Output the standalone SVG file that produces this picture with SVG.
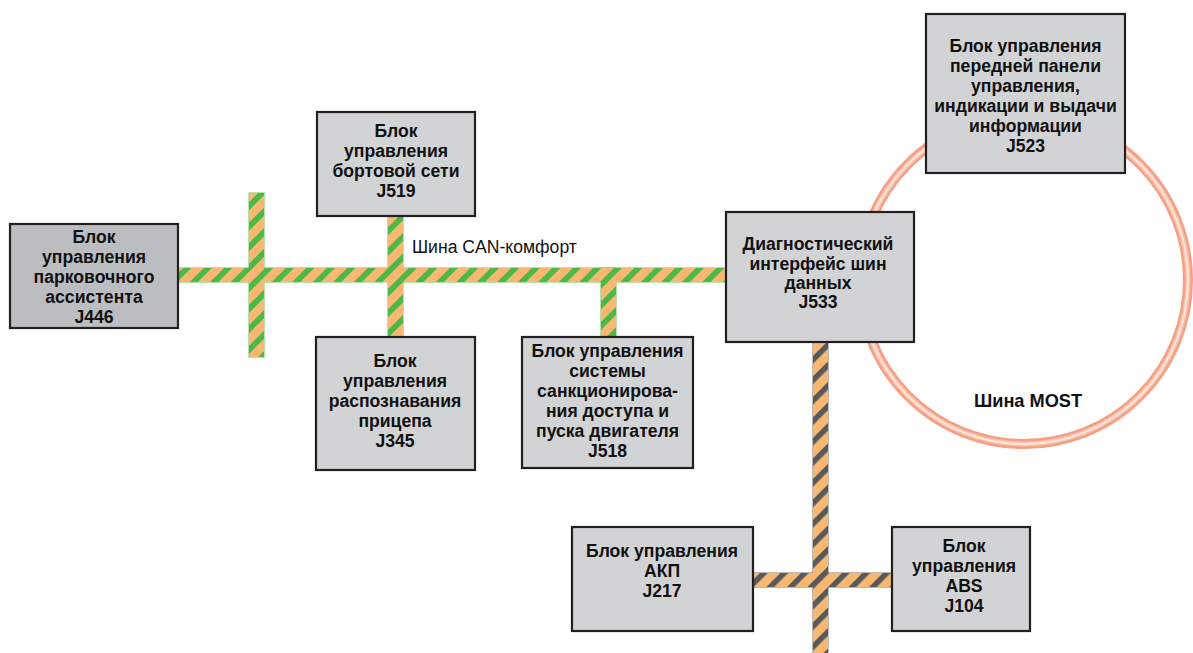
<svg xmlns="http://www.w3.org/2000/svg" width="1193" height="653" viewBox="0 0 1193 653">
  <defs>
    <pattern id="canStripe" patternUnits="userSpaceOnUse" width="14.5" height="14.5" patternTransform="rotate(45)">
      <rect x="0" y="0" width="14.5" height="14.5" fill="#f9b872"/>
      <rect x="0" y="0" width="5.8" height="14.5" fill="#4db848"/>
    </pattern>
    <pattern id="darkStripe" patternUnits="userSpaceOnUse" width="14.5" height="14.5" patternTransform="rotate(45)">
      <rect x="0" y="0" width="14.5" height="14.5" fill="#f9b872"/>
      <rect x="0" y="0" width="5.5" height="14.5" fill="#58595b"/>
    </pattern>
  </defs>
  <style>
    .box { fill: #d1d3d4; stroke: #231f20; stroke-width: 2.2; }
    .box-dark { fill: #bcbdc0; stroke: #231f20; stroke-width: 2.2; }
    .lbl { font-family: "Liberation Sans", Arial, sans-serif; font-weight: bold; font-size: 17.6px; fill: #111; text-anchor: middle; }
    .can-edge { fill: none; stroke: #86d073; stroke-width: 1.2; }
    .can-fill { fill: url(#canStripe); stroke: none; }
    .dark-edge { fill: none; stroke: #8c8c8c; stroke-width: 1.2; }
    .dark-fill { fill: url(#darkStripe); stroke: none; }
    .buslbl { font-family: "Liberation Sans", Arial, sans-serif; font-size: 17.6px; fill: #111; }
  </style>
  <rect width="1193" height="653" fill="#ffffff"/>

  <g id="most-ring">
    <circle cx="1024" cy="280" r="164" fill="none" stroke="#f3a085" stroke-width="10"/>
    <circle cx="1024" cy="280" r="164" fill="none" stroke="#f8c2ae" stroke-width="5"/>
    <circle cx="1024" cy="280" r="164" fill="none" stroke="#fde3d9" stroke-width="2"/>
  </g>

  <g id="connectors">
    <g id="can-bus">
      <rect class="can-edge" x="178" y="268" width="549" height="14"/>
      <rect class="can-edge" x="249" y="193" width="15" height="164"/>
      <rect class="can-edge" x="388" y="215" width="15" height="121"/>
      <rect class="can-edge" x="601" y="268" width="15" height="68"/>
      <rect class="can-fill" x="178" y="268" width="549" height="14"/>
      <rect class="can-fill" x="249" y="193" width="15" height="164"/>
      <rect class="can-fill" x="388" y="215" width="15" height="121"/>
      <rect class="can-fill" x="601" y="268" width="15" height="68"/>
    </g>
    <g id="dark-bus">
      <rect class="dark-edge" x="813" y="342" width="15" height="320"/>
      <rect class="dark-edge" x="752" y="573" width="140" height="14"/>
      <rect class="dark-fill" x="813" y="342" width="15" height="320"/>
      <rect class="dark-fill" x="752" y="573" width="140" height="14"/>
    </g>
  </g>

  <g id="bus-labels">
    <text class="buslbl" x="412" y="253">Шина CAN-комфорт</text>
    <text class="lbl" x="1028" y="407" style="font-size:18.2px">Шина MOST</text>
  </g>

  <g id="node-J446">
    <rect class="box-dark" x="10" y="224" width="168" height="104"/>
    <text class="lbl"><tspan x="94" y="243">Блок</tspan><tspan x="94" y="263">управления</tspan><tspan x="94" y="283">парковочного</tspan><tspan x="94" y="303">ассистента</tspan><tspan x="94" y="323">J446</tspan></text>
  </g>

  <g id="node-J519">
    <rect class="box" x="317" y="112" width="158" height="104"/>
    <text class="lbl"><tspan x="396" y="137">Блок</tspan><tspan x="396" y="157">управления</tspan><tspan x="396" y="177">бортовой сети</tspan><tspan x="396" y="197">J519</tspan></text>
  </g>

  <g id="node-J345">
    <rect class="box" x="316" y="337" width="159" height="133"/>
    <text class="lbl"><tspan x="395" y="367">Блок</tspan><tspan x="395" y="387">управления</tspan><tspan x="395" y="407">распознавания</tspan><tspan x="395" y="427">прицепа</tspan><tspan x="395" y="447">J345</tspan></text>
  </g>

  <g id="node-J518">
    <rect class="box" x="522" y="337" width="171" height="131"/>
    <text class="lbl"><tspan x="607.5" y="357">Блок управления</tspan><tspan x="607.5" y="377">системы</tspan><tspan x="607.5" y="397">санкционирова-</tspan><tspan x="607.5" y="417">ния доступа и</tspan><tspan x="607.5" y="437">пуска двигателя</tspan><tspan x="607.5" y="457">J518</tspan></text>
  </g>

  <g id="node-J533">
    <rect class="box" x="726" y="212" width="188" height="130"/>
    <text class="lbl"><tspan x="818" y="250">Диагностический</tspan><tspan x="818" y="270">интерфейс шин</tspan><tspan x="818" y="289">данных</tspan><tspan x="818" y="308">J533</tspan></text>
  </g>

  <g id="node-J523">
    <rect class="box" x="926" y="14" width="199" height="159"/>
    <text class="lbl"><tspan x="1025.5" y="52">Блок управления</tspan><tspan x="1025.5" y="72">передней панели</tspan><tspan x="1025.5" y="92">управления,</tspan><tspan x="1025.5" y="112">индикации и выдачи</tspan><tspan x="1025.5" y="132">информации</tspan><tspan x="1025.5" y="152">J523</tspan></text>
  </g>

  <g id="node-J217">
    <rect class="box" x="572" y="527" width="181" height="104"/>
    <text class="lbl"><tspan x="662" y="557">Блок управления</tspan><tspan x="662" y="577">АКП</tspan><tspan x="662" y="597">J217</tspan></text>
  </g>

  <g id="node-J104">
    <rect class="box" x="892" y="527" width="138" height="104"/>
    <text class="lbl"><tspan x="964" y="552">Блок</tspan><tspan x="964" y="572">управления</tspan><tspan x="964" y="592">ABS</tspan><tspan x="964" y="612">J104</tspan></text>
  </g>
</svg>
